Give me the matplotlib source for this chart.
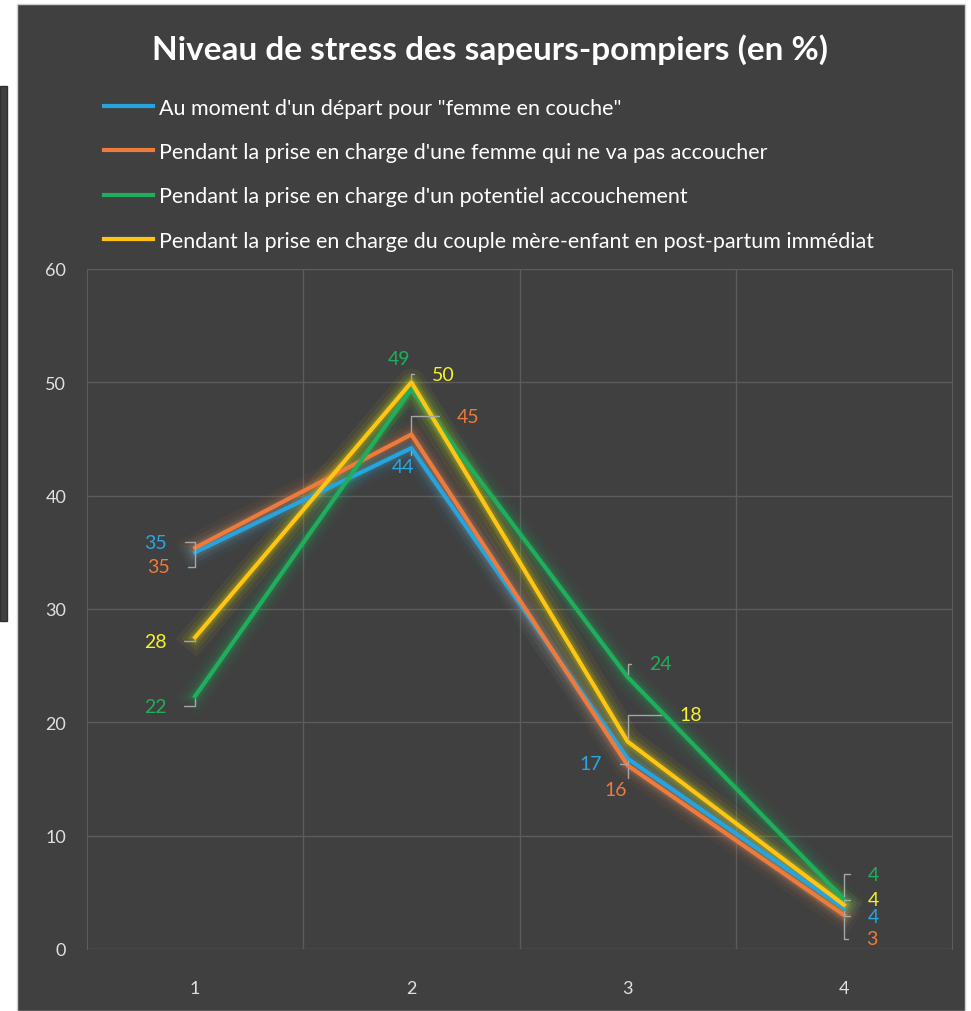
import matplotlib.pyplot as plt
from matplotlib.patches import Rectangle

plt.rcParams['font.family'] = ['Lato', 'DejaVu Sans']

"""
stress level of firefighters, 4 answer levels, 4 situations
values read off the original excel chart
"""
levels = [1, 2, 3, 4]
series_names = [
    'Au moment d\'un départ pour "femme en couche"',
    "Pendant la prise en charge d'une femme qui ne va pas accoucher",
    "Pendant la prise en charge d'un potentiel accouchement",
    "Pendant la prise en charge du couple mère-enfant en post-partum immédiat",
]
depart = [35.0, 44.2, 16.8, 3.6]
pas_accouchement = [35.4, 45.4, 16.2, 3.0]
potentiel = [22.3, 49.4, 24.0, 4.4]
post_partum = [27.5, 50.0, 18.3, 3.9]

line_colors = ['#27A4DE', '#EE7B3C', '#1FAF5C', '#FFC414']
glow_colors = ['#27A4DE', '#EE7B3C', '#1FAF5C', '#F4F000']
label_colors = ['#2AA6E0', '#EE7B3C', '#1FAF5C', '#F4F22A']

# label offsets in pixels, per series and per level (like excel's dragged labels)
label_offsets = [
    [(-40, 10), (-8, -18), (-37, -5), (30, -8)],
    [(-37, -19), (57, 18), (-12, -24), (28, -24)],
    [(-40, -10), (-12, 31), (33, 13), (30, 25)],
    [(-40, -4), (32, 8), (63, 27), (30, 5)],
]

BG = '#404040'

fig = plt.figure(figsize=(9.71, 10.12), dpi=100, facecolor='white')
# the chart panel and a bit of the other element on its left
fig.patches.append(Rectangle((17 / 971, 0), 948 / 971, 1 - 5 / 1012, transform=fig.transFigure,
                             facecolor=BG, edgecolor='#d0d0d0', lw=1, zorder=-10))
fig.patches.append(Rectangle((0, 1 - 622 / 1012), 7 / 971, 535 / 1012, transform=fig.transFigure,
                             facecolor=BG, edgecolor='#303030', lw=1, zorder=-10))

ax = fig.add_axes([87 / 971, 1 - 950 / 1012, 865 / 971, 680 / 1012])
ax.set_facecolor(BG)

all_series = [depart, pas_accouchement, potentiel, post_partum]
for values, name, col, gcol in zip(all_series, series_names, line_colors, glow_colors):
    # soft glow under the line
    for w, a in [(20, 0.05), (14, 0.07), (9, 0.1), (6, 0.15)]:
        ax.plot(levels, values, color=gcol, lw=w, alpha=a, solid_joinstyle='round', zorder=2)
    ax.plot(levels, values, color=col, lw=3, label=name, solid_joinstyle='round', zorder=3)

for values, offs, lcol in zip(all_series, label_offsets, label_colors):
    for x, v, off in zip(levels, values, offs):
        ax.annotate(f'{v:.0f}', xy=(x, v), xytext=off, textcoords='offset pixels',
                    ha='center', va='center', color=lcol, fontsize=14, zorder=5,
                    arrowprops=dict(arrowstyle='-', color='#a6a6a6', lw=1, shrinkA=11, shrinkB=2,
                                    connectionstyle='angle,angleA=0,angleB=90,rad=0'))

ax.set_xlim(0.5, 4.5)
ax.set_ylim(0, 60)
ax.set_yticks(range(0, 61, 10))
ax.set_xticks(levels)
ax.set_xticks([1.5, 2.5, 3.5], minor=True)
ax.grid(axis='y', color='#5c5c5c', lw=1)
ax.grid(axis='x', which='minor', color='#5c5c5c', lw=1)
ax.tick_params(which='both', length=0)
ax.tick_params(axis='y', pad=15, labelsize=13, labelcolor='#e0e0e0')
ax.tick_params(axis='x', pad=22, labelsize=13, labelcolor='#e0e0e0')
for side in ['bottom']:
    ax.spines[side].set_visible(False)
for side in ['left', 'right', 'top']:
    ax.spines[side].set_color('#5c5c5c')

fig.text(490 / 971, 1 - 50 / 1012, 'Niveau de stress des sapeurs-pompiers (en %)',
         ha='center', va='center', color='white', fontsize=24, fontweight='bold')

fig.legend(loc='upper left', bbox_to_anchor=(95 / 971, 1 - 90 / 1012), frameon=False,
           fontsize=15.5, labelcolor='white', handlelength=2.3, handletextpad=0.28,
           labelspacing=1.13, borderaxespad=0)

plt.savefig('out.png', dpi=100, facecolor='white')
